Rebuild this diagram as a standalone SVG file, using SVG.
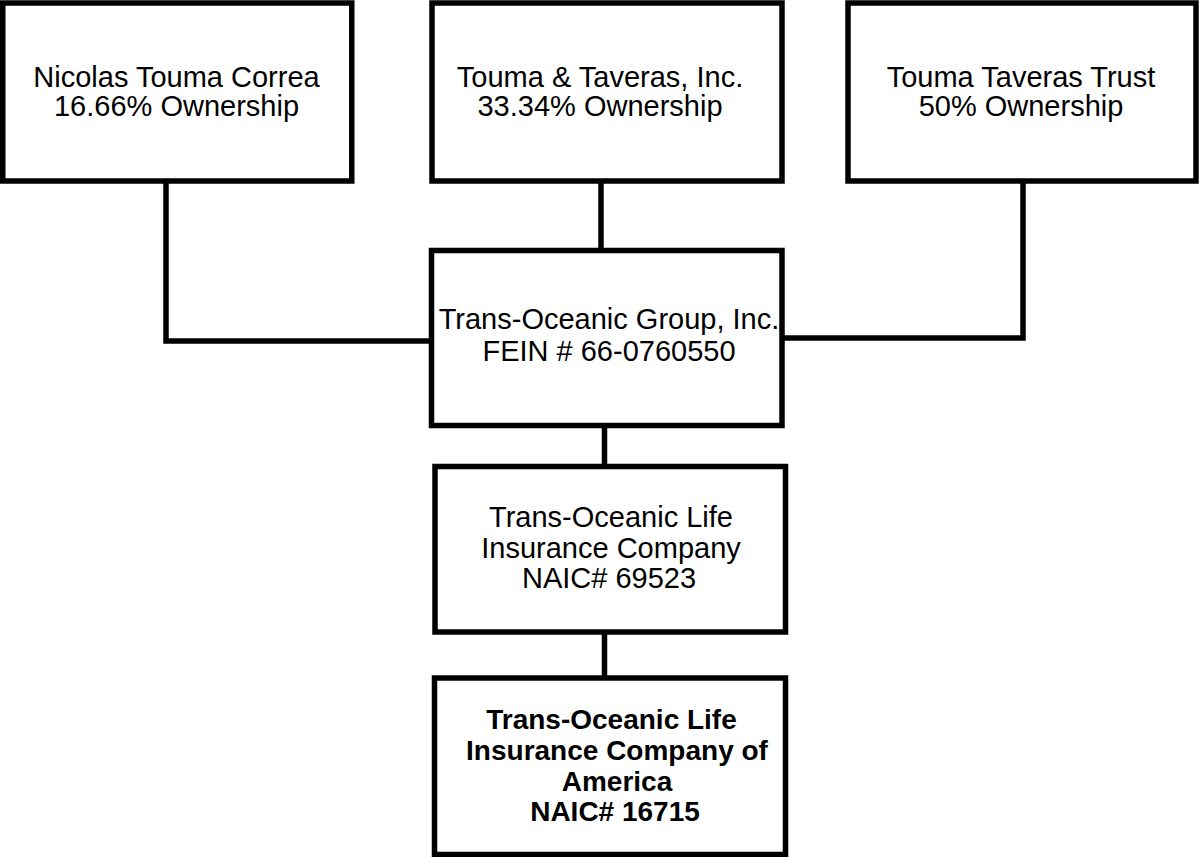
<svg xmlns="http://www.w3.org/2000/svg" width="1199" height="857" viewBox="0 0 1199 857">
<style>
.box{fill:#fff;stroke:#000;stroke-width:5.5}
.conn{fill:none;stroke:#000;stroke-width:5.5;stroke-linejoin:miter}
text{font-family:"Liberation Sans",Arial,sans-serif;font-size:29px;fill:#000;text-anchor:middle}
.b{font-weight:bold;font-size:28px}
</style>
<rect width="1199" height="857" fill="#fff"/>
<g id="connectors">
<path class="conn" d="M166 181 V341 H431.5"/>
<path class="conn" d="M601 181 V250.5"/>
<path class="conn" d="M1023 181 V338 H782"/>
<path class="conn" d="M604.5 425.5 V466.5"/>
<path class="conn" d="M604.5 632 V678"/>
</g>
<g id="nicolas">
<rect class="box" x="2.75" y="3" width="349" height="178"/>
<text x="176.5" y="87">Nicolas Touma Correa</text>
<text x="176.5" y="116">16.66% Ownership</text>
</g>
<g id="touma-taveras-inc">
<rect class="box" x="432" y="3" width="350" height="178"/>
<text x="600" y="87">Touma &amp; Taveras, Inc.</text>
<text x="600" y="116">33.34% Ownership</text>
</g>
<g id="touma-taveras-trust">
<rect class="box" x="848" y="3" width="348" height="178"/>
<text x="1021" y="87">Touma Taveras Trust</text>
<text x="1021" y="116">50% Ownership</text>
</g>
<g id="group">
<rect class="box" x="431.5" y="250.5" width="350.5" height="175"/>
<text x="609" y="329">Trans-Oceanic Group, Inc.</text>
<text x="609" y="361">FEIN # 66-0760550</text>
</g>
<g id="life">
<rect class="box" x="435" y="466.5" width="350.5" height="165.5"/>
<text x="611" y="527">Trans-Oceanic Life</text>
<text x="611" y="557.5">Insurance Company</text>
<text x="609" y="588">NAIC# 69523</text>
</g>
<g id="america">
<rect class="box" x="434.5" y="678" width="351" height="176.5"/>
<text class="b" x="611.5" y="729">Trans-Oceanic Life</text>
<text class="b" x="617" y="760">Insurance Company of</text>
<text class="b" x="617" y="790.5">America</text>
<text class="b" x="615" y="821">NAIC# 16715</text>
</g>
</svg>
